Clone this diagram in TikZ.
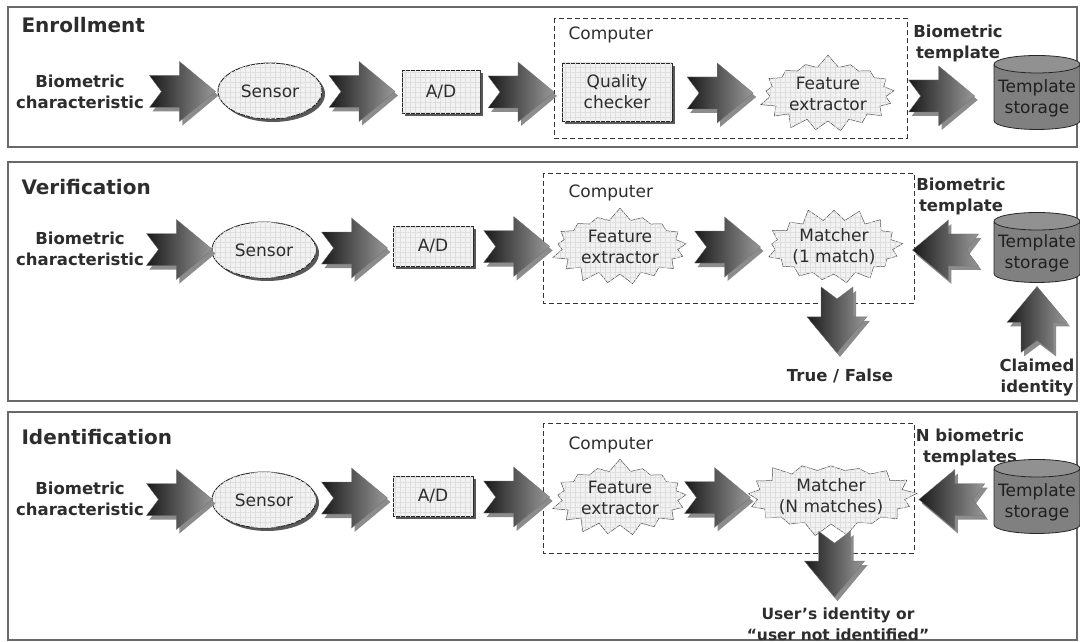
\documentclass[tikz,border=0pt]{standalone}
\usepackage{fontspec}
\setmainfont{DejaVu Sans}
\usetikzlibrary{shapes.geometric,shapes.symbols,shadows,calc,patterns.meta}
\definecolor{inkgray}{RGB}{45,45,45}
\definecolor{framegray}{RGB}{105,105,105}

\begin{document}
\begin{tikzpicture}[x=1pt, y=-1pt,
    panel/.style={draw=framegray, line width=2pt},
    compbox/.style={draw=black!80, line width=0.8pt, dash pattern=on 5pt off 3pt},
    title/.style={anchor=west, text=inkgray, font=\fontsize{20}{24}\selectfont\bfseries},
    lbl/.style={align=center, text=inkgray, font=\fontsize{16.5}{21}\selectfont\bfseries},
    plain/.style={align=center, text=inkgray, font=\fontsize{17}{21}\selectfont},
    gridfill/.style={fill=black!5, postaction={pattern={Hatch[distance=5pt,angle=0,line width=0.4pt]}, pattern color=black!13}},
    boxshadow/.style={drop shadow={shadow xshift=3pt, shadow yshift=-3pt, fill=black!65, opacity=1}},
    unitbox/.style={plain, rectangle, draw=black!85, line width=0.8pt, gridfill, boxshadow},
    sensorbox/.style={plain, ellipse, draw=black!85, line width=0.9pt, gridfill, boxshadow,
                      minimum width=104pt, minimum height=56pt},
    burst/.style={plain, starburst, starburst points=17, starburst point height=13pt,
                  random starburst=7, draw=black!70, line width=0.5pt, gridfill,
                  minimum width=142pt, minimum height=80pt, inner sep=0pt},
    store/.style={plain, text=black!88, cylinder, shape border rotate=90, aspect=0.22,
                  draw=black!85, line width=0.8pt, cylinder uses custom fill,
                  cylinder body fill=black!50, cylinder end fill=black!43,
                  minimum width=86pt, minimum height=74pt, inner sep=1pt},
    pics/fatarrow/.style={code={
      \shade[draw=black!55, line width=0.3pt, left color=black!90, right color=black!40,
             drop shadow={shadow xshift=3pt, shadow yshift=-4pt, fill=black!45, opacity=1}]
        (-33,-16) -- (-3,-16) -- (-3,-30) -- (33,0) -- (-3,30) -- (-3,16) -- (-33,16) -- (-21,0) -- cycle;
    }}
]
\useasboundingbox (0,0) rectangle (1080,642);

% Panels
\draw[panel] (8,7) rectangle (1077,147);
\draw[panel] (8,162) rectangle (1077,401);
\draw[panel] (8,412) rectangle (1077,640);

% Enrollment
\node[title] (t1) at (18,25) {Enrollment};
\draw[compbox] (554,18) rectangle (907,138);
\node[plain, anchor=west] (cp1) at (565,35) {Computer};
\node[lbl] (bio1) at (80,92) {Biometric\\characteristic};
\node[sensorbox] (sen1) at (270,91) {Sensor};
\node[unitbox, minimum width=78pt, minimum height=43pt] (ad1) at (441,92) {A/D};
\node[unitbox, minimum width=110pt, minimum height=58pt] (qc1) at (617,92) {Quality\\checker};
\node[burst] (fe1) at (828,94) {Feature\\extractor};
\node[lbl] (bt1) at (958,43) {Biometric\\template};
\node[store] (st1) at (1037,98) {Template\\storage};

\pic at ($(bio1.east)!.5!(sen1.west)$) {fatarrow};
\pic at ($(sen1.east)!.5!(ad1.west)$) {fatarrow};
\pic at ($(ad1.east)!.5!(qc1.west)$) {fatarrow};
\pic at ($(qc1.east)!.5!(fe1.west)$) {fatarrow};
\pic at ($(fe1.east)!.5!(st1.west)$) {fatarrow};

% Verification
\node[title] (t2) at (18,187) {Verification};
\draw[compbox] (543,173) rectangle (914,303);
\node[plain, anchor=west] (cp2) at (565,193) {Computer};
\node[lbl] (bio2) at (80,249) {Biometric\\characteristic};
\node[sensorbox] (sen2) at (264,250) {Sensor};
\node[unitbox, minimum width=80pt, minimum height=40pt] (ad2) at (433,246) {A/D};
\node[burst] (fe2) at (620,247) {Feature\\extractor};
\node[burst, random starburst=11] (ma2) at (834,247) {Matcher\\(1 match)};
\node[lbl] (bt2) at (961,196) {Biometric\\template};
\node[store, minimum height=70pt] (st2) at (1037,253) {Template\\storage};
\node[lbl] (tf) at (840,376) {True / False};
\node[lbl] (ci) at (1037,378) {Claimed\\identity};

\pic at ($(bio2.east)!.5!(sen2.west)$) {fatarrow};
\pic at ($(sen2.east)!.5!(ad2.west)$) {fatarrow};
\pic at ($(ad2.east)!.5!(fe2.west)$) {fatarrow};
\pic at ($(fe2.east)!.5!(ma2.west)$) {fatarrow};
\pic[rotate=180] at ($(ma2.east)!.5!(st2.west)$) {fatarrow};
\pic[rotate=-90] at ($(ma2.south)!.5!(tf.north)$) {fatarrow};
\pic[rotate=90] at ($(st2.south)!.5!(ci.north)$) {fatarrow};

% Identification
\node[title] (t3) at (18,437) {Identification};
\draw[compbox] (543,423) rectangle (914,553);
\node[plain, anchor=west] (cp3) at (565,445) {Computer};
\node[lbl] (bio3) at (80,499) {Biometric\\characteristic};
\node[sensorbox] (sen3) at (264,500) {Sensor};
\node[unitbox, minimum width=80pt, minimum height=40pt] (ad3) at (433,496) {A/D};
\node[burst] (fe3) at (620,498) {Feature\\extractor};
\node[burst, random starburst=3] (ma3) at (831,497) {Matcher\\(N matches)};
\node[lbl] (bt3) at (970,447) {N biometric\\templates};
\node[store] (st3) at (1037,502) {Template\\storage};
\node[lbl, font=\fontsize{15.5}{21}\selectfont\bfseries] (uid) at (838,624) {User's identity or\\``user not identified''};

\pic at ($(bio3.east)!.5!(sen3.west)$) {fatarrow};
\pic at ($(sen3.east)!.5!(ad3.west)$) {fatarrow};
\pic at ($(ad3.east)!.5!(fe3.west)$) {fatarrow};
\pic at ($(fe3.east)!.5!(ma3.west)$) {fatarrow};
\pic[rotate=180] at ($(ma3.east)!.5!(st3.west)$) {fatarrow};
\pic[rotate=-90] at ($(ma3.south)!.5!(uid.north)$) {fatarrow};

\end{tikzpicture}
\end{document}
